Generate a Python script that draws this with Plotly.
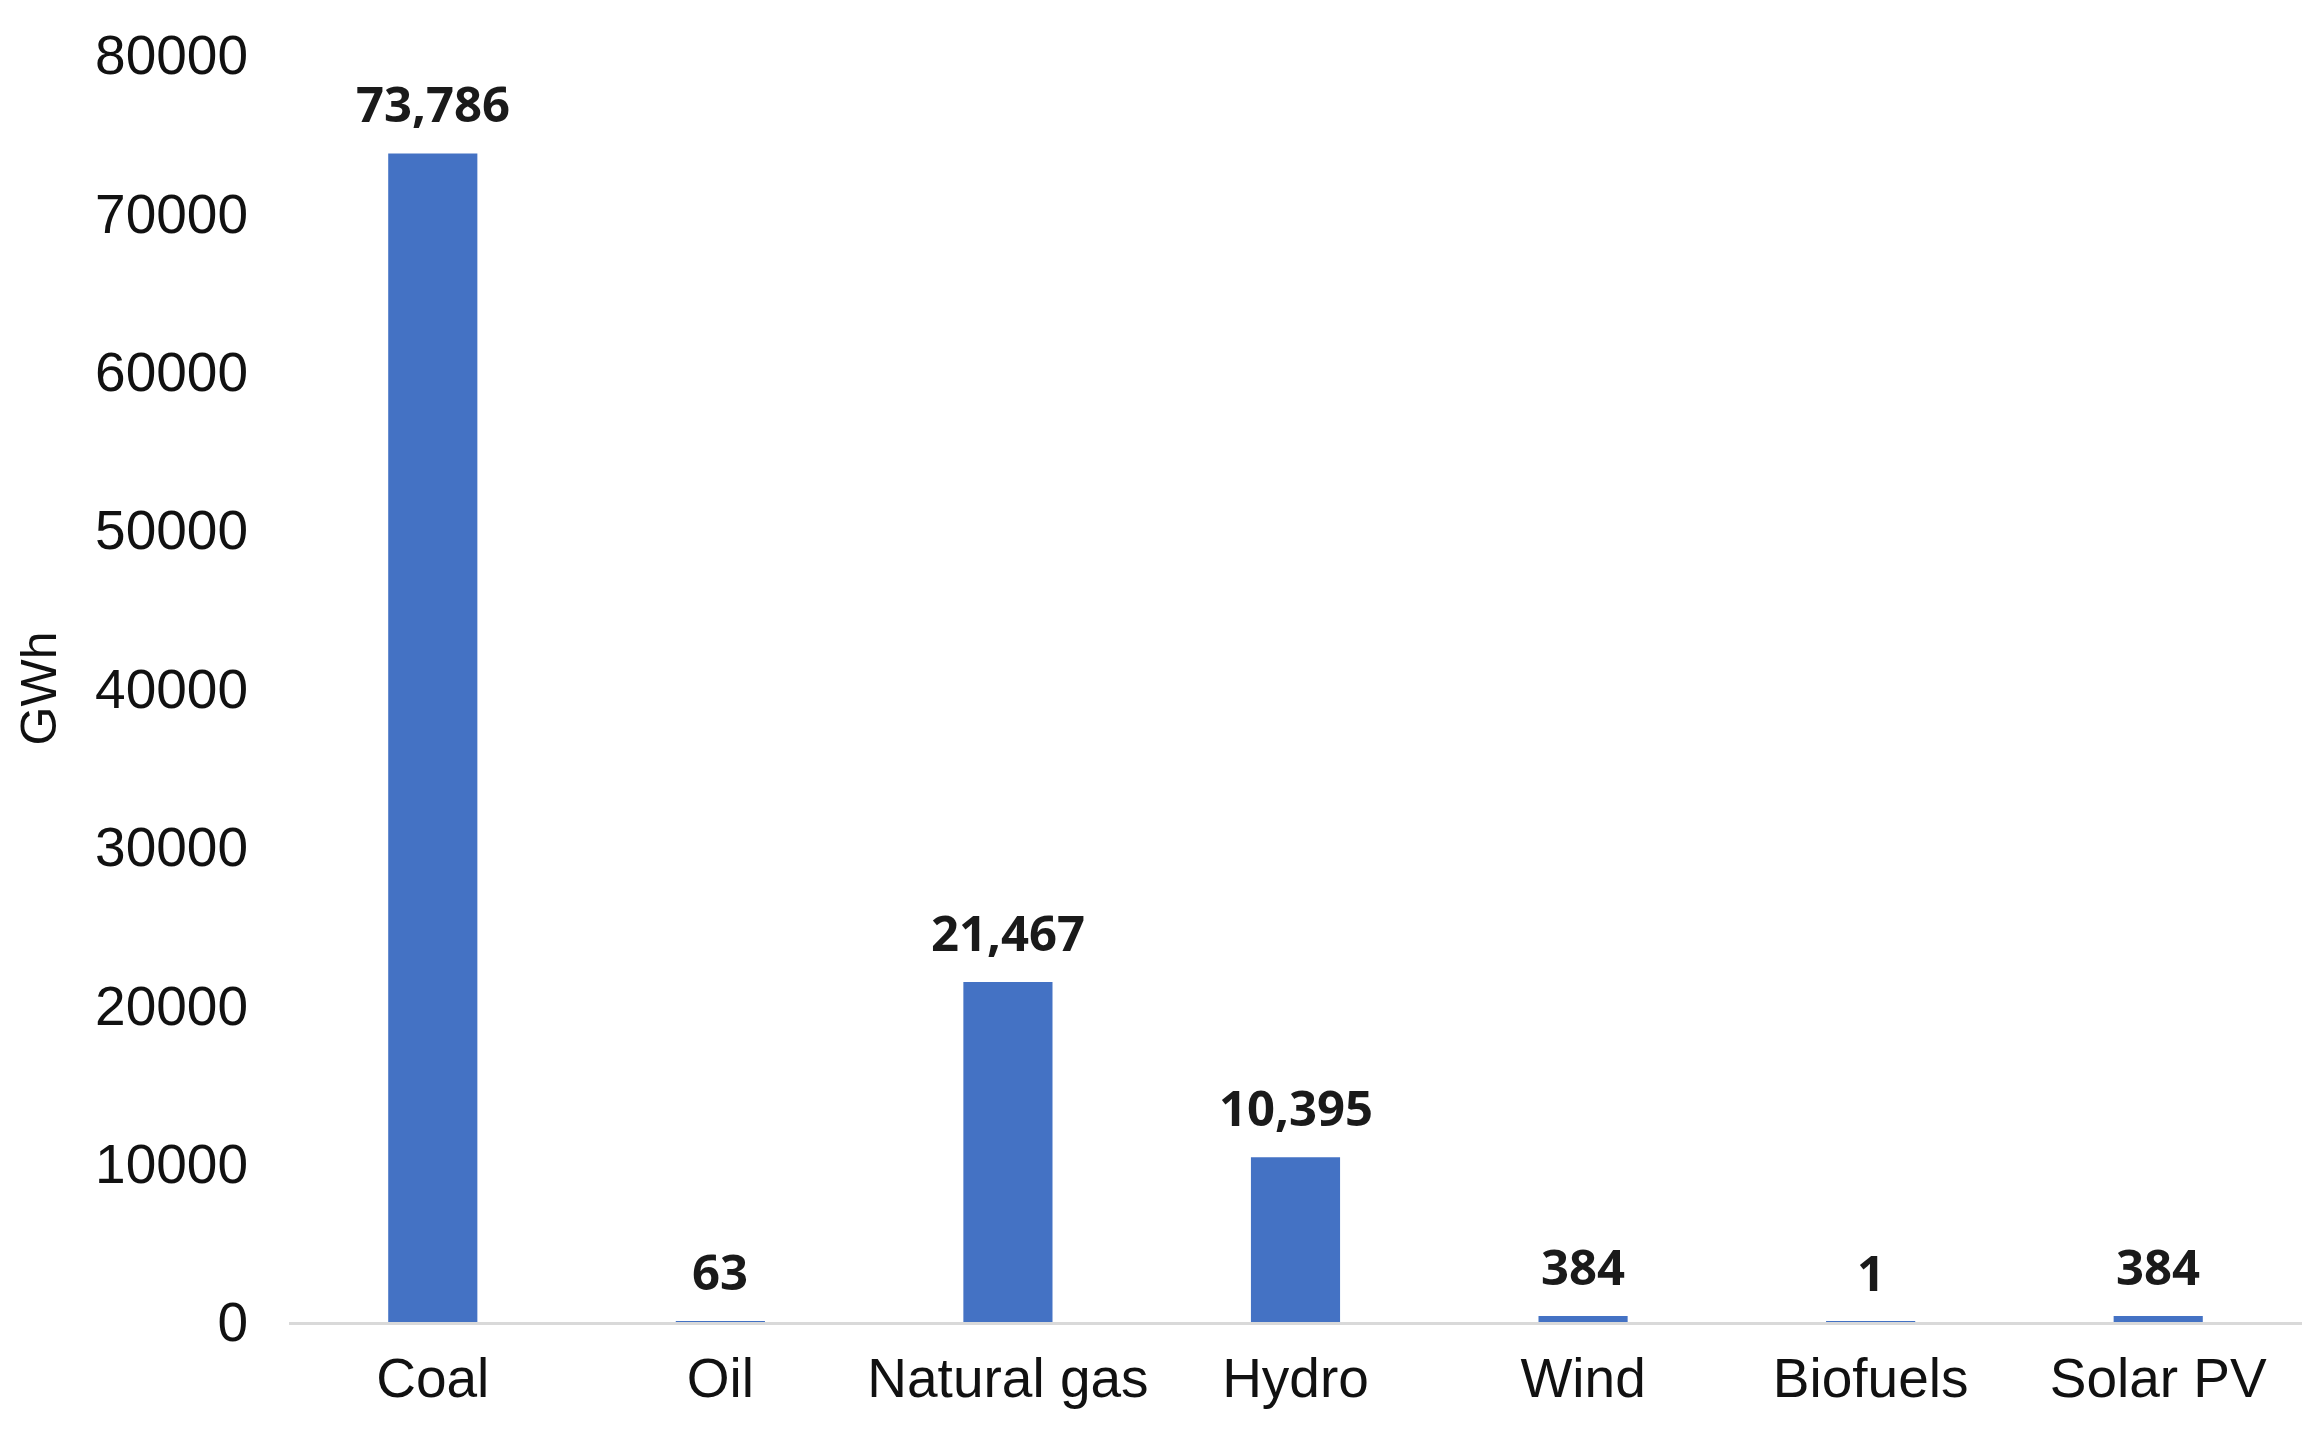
import plotly.graph_objects as go

categories = ["Coal", "Oil", "Natural gas", "Hydro", "Wind", "Biofuels", "Solar PV"]
values = [73786, 63, 21467, 10395, 384, 1, 384]
y_ticks = [0, 10000, 20000, 30000, 40000, 50000, 60000, 70000, 80000]

BAR = "#4472C4"

fig = go.Figure(
    go.Bar(x=categories, y=values, marker=dict(color=BAR, line=dict(width=0)), hoverinfo="x+y")
)

for c, v in zip(categories, values):
    fig.add_annotation(
        x=c, y=v, text=f"<b>{v:,}</b>", showarrow=False,
        yanchor="bottom", yshift=15,
        font=dict(family="Open Sans, Liberation Sans, sans-serif", size=49, color="#1a1a1a"),
    )

fig.update_layout(
    width=2308, height=1419,
    margin=dict(l=281, r=14, t=47, b=105, autoexpand=False),
    paper_bgcolor="white", plot_bgcolor="white",
    bargap=0.69,
    showlegend=False,
    font=dict(family="Liberation Sans, Arial, sans-serif", color="#111111"),
)
fig.update_xaxes(
    showgrid=False, showline=True, linecolor="#D9D9D9", linewidth=3,
    ticks="", tickfont=dict(size=55), ticklabelstandoff=6, automargin=False,
)
fig.update_yaxes(
    range=[0, 80000], tickvals=y_ticks, ticktext=[str(t) for t in y_ticks],
    showgrid=False, zeroline=False, showline=False, ticks="",
    tickfont=dict(size=55), ticklabelstandoff=40, automargin=False,
    title=dict(text="GWh", font=dict(size=50), standoff=22),
)

fig.write_html("out.html")
